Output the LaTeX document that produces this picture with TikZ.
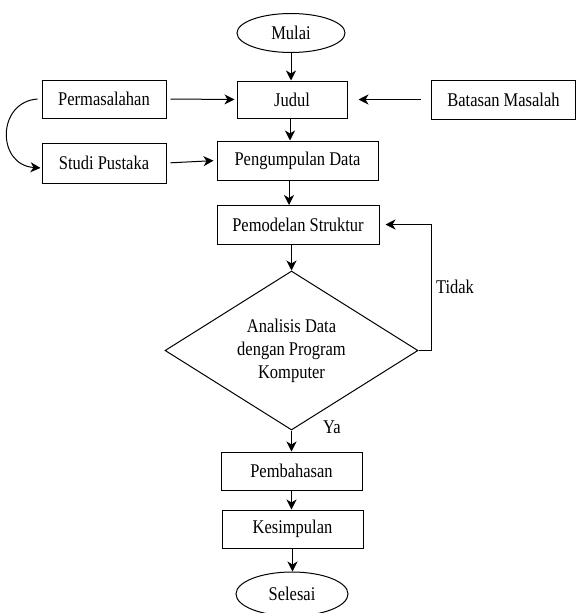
\documentclass[tikz,border=0pt]{standalone}
\usepackage{fontspec}
\setmainfont{Liberation Serif}[FakeStretch=0.85]
\usetikzlibrary{shapes.geometric,arrows.meta}

\begin{document}
\begin{tikzpicture}[x=1pt,y=-1pt,line width=1pt,
    every node/.style={font=\fontsize{19.4}{23}\selectfont},
    box/.style={draw,rectangle,inner sep=0pt},
    term/.style={draw,ellipse,inner sep=0pt},
    arr/.style={-{Stealth[length=10pt,width=10pt,inset=3pt]}}]
    \useasboundingbox (0,0) rectangle (576,613);
    % start and end
    \node[term,minimum width=108,minimum height=39] (mulai) at (291,33) {Mulai};
    \node[term,minimum width=112,minimum height=44] (selesai) at (292,594) {Selesai};
    % top row
    \node[box,minimum width=124,minimum height=38] (masalah) at (104,99) {Permasalahan};
    \node[box,minimum width=110,minimum height=37] (judul) at (292,99.5) {Judul};
    \node[box,minimum width=144,minimum height=39] (batasan) at (503.5,99.5) {Batasan Masalah};
    \node[box,minimum width=124,minimum height=40] (studi) at (104,163) {Studi Pustaka};
    \node[box,minimum width=161,minimum height=39] (kumpul) at (297.5,160.5) {Pengumpulan Data};
    \node[box,minimum width=162,minimum height=39] (model) at (298,224.5) {Pemodelan Struktur};
    \node[draw,diamond,aspect=1.6,inner sep=0pt,minimum width=253,minimum height=159,align=center]
        (analisis) at (291.5,350.5) {Analisis Data\\dengan Program\\Komputer};
    \node[box,minimum width=141,minimum height=38] (bahas) at (291.5,471) {Pembahasan};
    \node[box,minimum width=141,minimum height=38] (simpul) at (292.5,529) {Kesimpulan};
    \node (tidak) at (455,287) {Tidak};
    \node (ya) at (332,427) {Ya};
    % arrows
    \draw[arr] (mulai.south) -- (mulai.south |- judul.north);
    \draw[arr,shorten <=4pt,shorten >=2pt] (masalah.east) -- (judul.west);
    \draw[arr,shorten <=10pt,shorten >=11pt] (batasan.west) -- (judul.east);
    \draw[arr] ([xshift=-2pt]judul.south) -- ([xshift=-2pt]judul.south |- kumpul.north);
    \draw[arr,shorten <=4pt,shorten >=3pt] (studi.east) -- (kumpul.west);
    \draw[arr,shorten >=1pt] ([xshift=-4pt]masalah.west) .. controls +(-41,3) and +(-45,-3) .. ([yshift=-5pt]studi.west);
    \draw[arr] (289,180) -- (289,205);
    \draw[arr] (291.5,244) -- (analisis.north);
    \draw[arr,shorten >=6pt] (analisis.east) -- (431,350.5) |- (model.east);
    \draw[arr] (analisis.south) -- (analisis.south |- bahas.north);
    \draw[arr] (bahas.south) -- (bahas.south |- simpul.north);
    \draw[arr] (simpul.south) -- (simpul.south |- selesai.north);
\end{tikzpicture}
\end{document}
